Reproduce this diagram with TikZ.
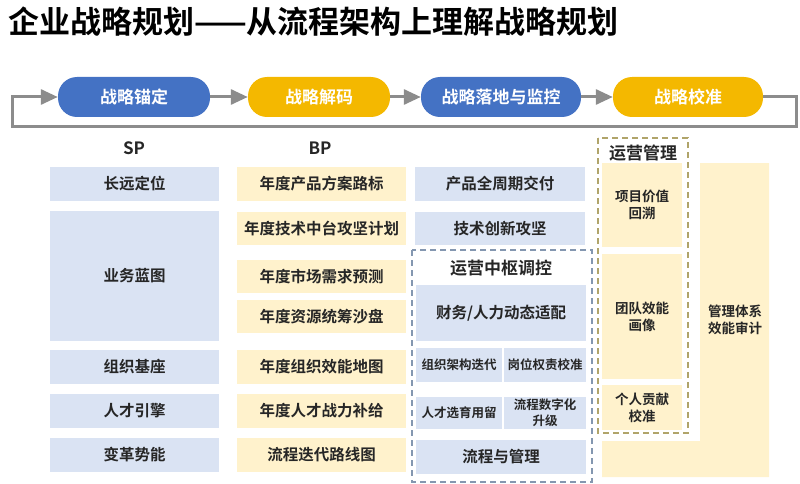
\documentclass[tikz,border=0pt]{standalone}
\usepackage{fontspec}
\setmainfont{Noto Sans CJK SC}[BoldFont={Noto Sans CJK SC Bold}]
\usetikzlibrary{arrows.meta}

\definecolor{bleupill}{HTML}{4472C4}
\definecolor{jaunepill}{HTML}{F4B800}
\definecolor{bleuclair}{HTML}{DAE3F3}
\definecolor{jauneclair}{HTML}{FFF2CC}
\definecolor{gristrait}{HTML}{8C8C8C}
\definecolor{texte}{HTML}{262626}
\definecolor{cadrebleu}{HTML}{8497B0}
\definecolor{cadreor}{HTML}{B0A46A}

\begin{document}
\begin{tikzpicture}[x=1pt, y=-1pt,
  pill/.style={rounded corners=19pt, minimum height=40pt, inner sep=0pt,
    text=white, font=\fontsize{17}{20}\selectfont\bfseries},
  boite/.style={inner sep=0pt, text=texte, align=center,
    font=\fontsize{15.5}{18}\selectfont\bfseries},
  bleu/.style={boite, fill=bleuclair},
  jaune/.style={boite, fill=jauneclair},
  petit/.style={font=\fontsize{12.5}{16}\selectfont\bfseries},
  moyen/.style={font=\fontsize{13.5}{17}\selectfont\bfseries},
  titre/.style={text=texte, inner sep=0pt, font=\fontsize{17}{20}\selectfont\bfseries},
  fleche/.style={gristrait, line width=3pt,
    -{Triangle[length=17pt, width=15pt]}},
  cadre/.style={line width=1.5pt, dash pattern=on 6pt off 4pt}]

\useasboundingbox (0,0) rectangle (800,484);

% Titre
\node[anchor=west, inner sep=0pt, font=\fontsize{31}{34}\selectfont\bfseries]
  (titre) at (8,22) {企业战略规划——从流程架构上理解战略规划};

% Boucle des étapes
\node[pill, fill=bleupill, minimum width=152pt] (p1) at (134,97) {战略锚定};
\node[pill, fill=jaunepill, minimum width=142pt] (p2) at (319,97) {战略解码};
\node[pill, fill=bleupill, minimum width=160pt] (p3) at (501,97) {战略落地与监控};
\node[pill, fill=jaunepill, minimum width=150pt] (p4) at (688,97) {战略校准};

\draw[fleche] (p1) -- (p2);
\draw[fleche] (p2) -- (p3);
\draw[fleche] (p3) -- (p4);

\coordinate (hautD) at (796,97);
\coordinate (basD) at (796,127);
\coordinate (basG) at (12,127);
\coordinate (hautG) at (12,97);
\draw[fleche] (p4.east) -- (hautD) -- (basD) -- (basG) -- (hautG) -- (p1.west);

% Colonne SP
\node[titre] (sp) at (134,148) {SP};
\node[bleu, minimum width=169pt, minimum height=34pt] (sp1) at (134.5,184) {长远定位};
\node[bleu, minimum width=169pt, minimum height=130pt] (sp2) at (134.5,276) {业务蓝图};
\node[bleu, minimum width=169pt, minimum height=34pt] (sp3) at (134.5,367) {组织基座};
\node[bleu, minimum width=169pt, minimum height=34pt] (sp4) at (134.5,411) {人才引擎};
\node[bleu, minimum width=169pt, minimum height=34pt] (sp5) at (134.5,455) {变革势能};

% Colonne BP
\node[titre] (bp) at (320,148) {BP};
\node[jaune, minimum width=169pt, minimum height=34pt] (bp1) at (321.5,184) {年度产品方案路标};
\node[jaune, minimum width=169pt, minimum height=33pt] (bp2) at (321.5,228.5) {年度技术中台攻坚计划};
\node[jaune, minimum width=169pt, minimum height=33pt] (bp3) at (321.5,276.5) {年度市场需求预测};
\node[jaune, minimum width=169pt, minimum height=33pt] (bp4) at (321.5,316.5) {年度资源统筹沙盘};
\node[jaune, minimum width=169pt, minimum height=34pt] (bp5) at (321.5,367) {年度组织效能地图};
\node[jaune, minimum width=169pt, minimum height=34pt] (bp6) at (321.5,411) {年度人才战力补给};
\node[jaune, minimum width=169pt, minimum height=34pt] (bp7) at (321.5,455) {流程迭代路线图};

% Colonne mise en oeuvre
\node[bleu, minimum width=170pt, minimum height=34pt] (m1) at (500,184) {产品全周期交付};
\node[bleu, minimum width=170pt, minimum height=33pt] (m2) at (500,228.5) {技术创新攻坚};

\draw[cadre, cadrebleu] (412,250) rectangle (592,482);
\node[titre] (pilotage) at (501,268) {运营中枢调控};
\node[bleu, minimum width=170pt, minimum height=56pt] (m3) at (501,313) {财务/人力动态适配};
\node[bleu, petit, minimum width=86pt, minimum height=34pt] (m4) at (459,365) {组织架构迭代};
\node[bleu, petit, minimum width=82pt, minimum height=34pt] (m5) at (545,365) {岗位权责校准};
\node[bleu, petit, minimum width=86pt, minimum height=32pt] (m6) at (459,413) {人才选育用留};
\node[bleu, petit, minimum width=82pt, minimum height=32pt] (m7) at (545,413) {流程数字化\\升级};
\node[bleu, minimum width=170pt, minimum height=34pt] (m8) at (501,457) {流程与管理};

% Colonne calibrage
\fill[jauneclair] (700,163) -- (769,163) -- (769,477) -- (602,477)
  -- (602,441) -- (700,441) -- cycle;
\node[boite, moyen] (audit) at (735,320) {管理体系\\效能审计};

\draw[cadre, cadreor] (598,138) rectangle (688,433);
\node[titre] (gestion) at (643,153) {运营管理};
\node[jaune, moyen, minimum width=80pt, minimum height=84pt] (g1) at (642,205) {项目价值\\回溯};
\node[jaune, moyen, minimum width=80pt, minimum height=125pt] (g2) at (642,316.5) {团队效能\\画像};
\node[jaune, moyen, minimum width=80pt, minimum height=45pt] (g3) at (642,407.5) {个人贡献\\校准};

\end{tikzpicture}
\end{document}
